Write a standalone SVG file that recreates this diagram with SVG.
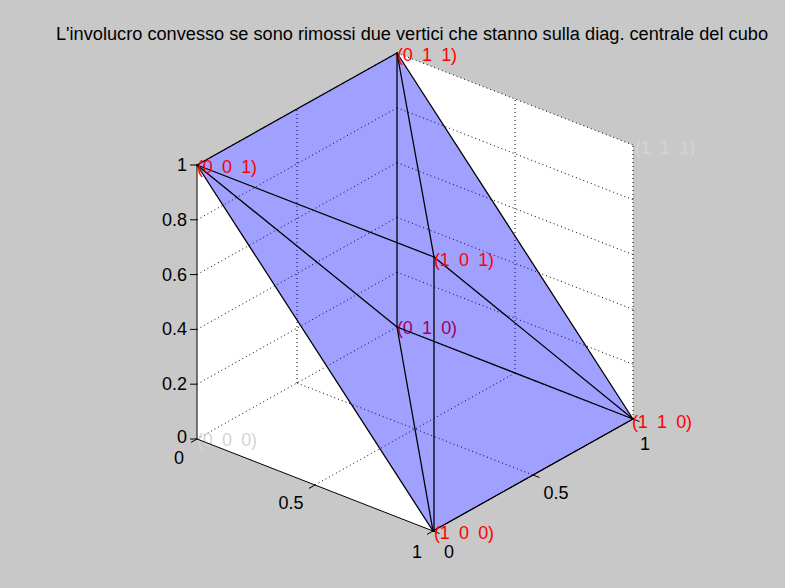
<svg xmlns="http://www.w3.org/2000/svg" width="785" height="588" viewBox="0 0 785 588">
<style>
text{font-family:"Liberation Sans",Arial,sans-serif;}
.tick{font-size:18px;fill:#000;}
.lbl{font-size:18px;fill:#ff0000;}
.ghost{font-size:18px;fill:#d4d4d4;}
.grid{stroke:#000;stroke-width:1;stroke-dasharray:1 3;fill:none;}
.edge{stroke:#000;stroke-width:1.3;fill:none;stroke-linecap:round;}
.axis{stroke:#000;stroke-width:1;fill:none;}
</style>
<rect x="0" y="0" width="785" height="588" fill="#c8c8c8"/>
<g id="title"><text x="412" y="40" font-size="18" text-anchor="middle" textLength="712" lengthAdjust="spacingAndGlyphs" fill="#000">L'involucro convesso se sono rimossi due vertici che stanno sulla diag. centrale del cubo</text></g>
<g id="axes-back">
<polygon points="197,165 397,53 633,145 633,419 433,531 197,439" fill="#ffffff"/>
<g class="grid">
<path d="M197,439 L397,327 M197,384.2 L397,272.2 M197,329.4 L397,217.4 M197,274.6 L397,162.6 M197,219.8 L397,107.8 M197,165 L397,53"/>
<path d="M297,383 L297,109"/>
<path d="M397,327 L633,419 M397,272.2 L633,364.2 M397,217.4 L633,309.4 M397,162.6 L633,254.6 M397,107.8 L633,199.8 M397,53 L633,145"/>
<path d="M515,373 L515,99 M633,419 L633,145"/>
<path d="M315,485 L515,373 M297,383 L533,475"/>
</g>
</g>
<g id="v010"><text class="lbl" x="397" y="334" textLength="60" lengthAdjust="spacing" xml:space="preserve">(0  1  0)</text></g>
<g id="v000"><text class="ghost" x="197" y="446" textLength="60" lengthAdjust="spacing" xml:space="preserve">(0  0  0)</text></g>
<g id="v111"><text class="ghost" x="635" y="154" textLength="60" lengthAdjust="spacing" xml:space="preserve">(1  1  1)</text></g>
<g id="hull-face"><polygon points="197,165 397,53 633,419 433,531" fill="#0000ff" fill-opacity="0.373"/></g>
<g id="connectors" class="edge">
<line x1="197" y1="165" x2="397" y2="53"/>
<line x1="397" y1="53" x2="633" y2="419"/>
<line x1="633" y1="419" x2="433" y2="531"/>
<line x1="433" y1="531" x2="197" y2="165"/>
<line x1="397" y1="53" x2="397" y2="327"/>
<line x1="397" y1="53" x2="434" y2="257"/>
<line x1="434" y1="257" x2="434" y2="531"/>
<line x1="397" y1="327" x2="433" y2="531"/>
<line x1="197" y1="165" x2="434" y2="257"/>
<line x1="434" y1="257" x2="633" y2="419"/>
<line x1="197" y1="165" x2="397" y2="327"/>
<line x1="397" y1="327" x2="633" y2="419"/>
</g>
<g id="axes-lines" class="axis">
<path d="M197,165 L197,439 L433,531 L633,419"/>
<path d="M197,165 h-7 M197,219.8 h-7 M197,274.6 h-7 M197,329.4 h-7 M197,384.2 h-7 M197,439 h-7"/>
<path d="M197,439 l-6,3.4 M315,485 l-6,3.4 M433,531 l-6,3.4"/>
<path d="M433,531 l6.5,2.5 M533,475 l6.5,2.5 M633,419 l6.5,2.5"/>
</g>
<g id="tick-labels">
<text class="tick" x="187" y="171" text-anchor="end">1</text>
<text class="tick" x="187" y="226" text-anchor="end">0.8</text>
<text class="tick" x="187" y="281" text-anchor="end">0.6</text>
<text class="tick" x="187" y="335" text-anchor="end">0.4</text>
<text class="tick" x="187" y="390" text-anchor="end">0.2</text>
<text class="tick" x="187" y="443" text-anchor="end">0</text>
<text class="tick" x="179" y="464" text-anchor="middle">0</text>
<text class="tick" x="291" y="509" text-anchor="middle">0.5</text>
<text class="tick" x="417" y="558" text-anchor="middle">1</text>
<text class="tick" x="449" y="558" text-anchor="middle">0</text>
<text class="tick" x="556" y="499" text-anchor="middle">0.5</text>
<text class="tick" x="645" y="450" text-anchor="middle">1</text>
</g>
<g id="v001"><text class="lbl" x="197" y="173" textLength="60" lengthAdjust="spacing" xml:space="preserve">(0  0  1)</text></g>
<g id="v011"><text class="lbl" x="397" y="61" textLength="60" lengthAdjust="spacing" xml:space="preserve">(0  1  1)</text></g>
<g id="v101"><text class="lbl" x="434" y="266" textLength="60" lengthAdjust="spacing" xml:space="preserve">(1  0  1)</text></g>
<g id="v110"><text class="lbl" x="632" y="428" textLength="60" lengthAdjust="spacing" xml:space="preserve">(1  1  0)</text></g>
<g id="v100"><text class="lbl" x="434" y="539" textLength="60" lengthAdjust="spacing" xml:space="preserve">(1  0  0)</text></g>
</svg>
